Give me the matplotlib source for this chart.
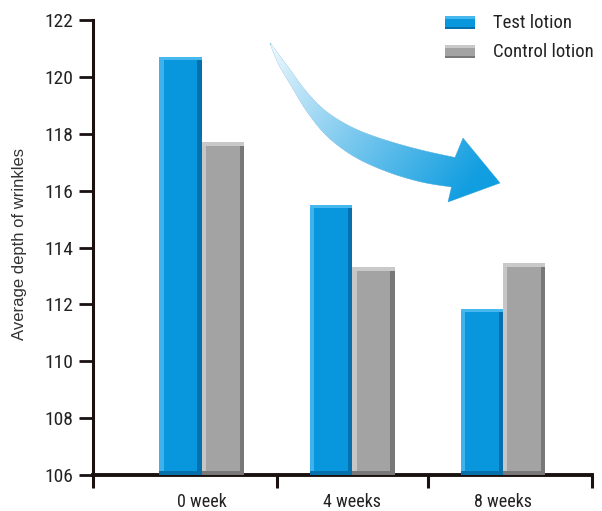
import numpy as np
import matplotlib
matplotlib.use("Agg")
import matplotlib.pyplot as plt
from matplotlib.patches import Polygon, Rectangle
from matplotlib import font_manager

# ---- data ----
categories = ["0 week", "4 weeks", "8 weeks"]
test_lotion = [120.7, 115.5, 111.85]
control_lotion = [117.7, 113.3, 113.45]
series_names = ["Test lotion", "Control lotion"]
y_ticks = [106, 108, 110, 112, 114, 116, 118, 120, 122]
y_label = "Average depth of wrinkles"

# ---- fonts ----
installed = {f.name for f in font_manager.fontManager.ttflist}
cond_candidates = ["Roboto Condensed", "Liberation Sans Narrow", "Archivo Narrow",
                   "PT Sans Narrow", "Fira Sans Condensed", "IBM Plex Sans Condensed",
                   "Encode Sans Condensed", "Asap Condensed", "Barlow Semi Condensed",
                   "Open Sans Condensed", "Pragati Narrow", "Liberation Sans"]
cond = next((c for c in cond_candidates if c in installed), "DejaVu Sans")
narrow = [cond, "DejaVu Sans"]
regular = ["Liberation Sans", "DejaVu Sans"]

W, H = 602, 511
fig = plt.figure(figsize=(W / 100, H / 100), dpi=100)
fig.patch.set_facecolor("white")

ax = fig.add_axes([93 / W, 1 - 475 / H, (592 - 93) / W, (475 - 20) / H])
ax.set_facecolor("none")

blue = dict(main="#0897dc", light="#3fb2ec", dark="#0670ad", top="#46b8ee")
grey = dict(main="#a3a3a3", light="#c6c6c6", dark="#787878", top="#c9c9c9")

bw = 0.28
x = np.arange(len(categories))
base = y_ticks[0]


def bevel_bar(xc, val, c):
    ax.bar(xc, val - base, bw, bottom=base, color=c["main"], zorder=2, linewidth=0)
    ax.bar(xc - bw / 2 + bw * 0.05, val - base, bw * 0.1, bottom=base, color=c["light"], zorder=3, linewidth=0)
    ax.bar(xc + bw / 2 - bw * 0.05, val - base, bw * 0.1, bottom=base, color=c["dark"], zorder=3, linewidth=0)
    ax.bar(xc, 0.12, bw, bottom=val - 0.12, color=c["top"], zorder=4, linewidth=0)
    ax.bar(xc, 0.15, bw, bottom=base, color=c["dark"], zorder=4, linewidth=0)


for i in range(len(categories)):
    bevel_bar(x[i] - bw / 2, test_lotion[i], blue)
    bevel_bar(x[i] + bw / 2, control_lotion[i], grey)

xl = (-0.72, 2.59)
ax.set_xlim(*xl)
ax.set_ylim(y_ticks[0], y_ticks[-1])
ax.set_yticks(y_ticks)
ax.set_yticklabels([str(t) for t in y_ticks], fontfamily=narrow, fontsize=14, color="#222222")
ax.set_xticks(x)
ax.set_xticklabels(categories, fontfamily=narrow, fontsize=13, color="#222222")
ax.tick_params(axis="x", which="major", length=0, pad=13)
ax.set_xticks([xl[0], 0.5, 1.5, xl[1]], minor=True)
ax.tick_params(axis="x", which="minor", length=9, width=2.2, direction="out", color="#1a1010")
ax.tick_params(axis="y", length=10, width=2.0, direction="out", color="#1a1010", pad=4)

for s in ["top", "right"]:
    ax.spines[s].set_visible(False)
ax.spines["left"].set_linewidth(2.2)
ax.spines["bottom"].set_linewidth(2.8)
ax.spines["left"].set_color("#1a1010")
ax.spines["bottom"].set_color("#1a1010")

fig.text(20 / W, 1 - 244 / H, y_label, rotation=90, ha="center", va="center",
         fontfamily=regular, fontsize=12, color="#333333")

# ---- overlay in pixel coordinates (arrow and legend) ----
gax = fig.add_axes([0, 0, 1, 1], zorder=5)
gax.set_xlim(0, W)
gax.set_ylim(H, 0)
gax.axis("off")
gax.patch.set_alpha(0)


def catmull(pts, n=12):
    pts = np.asarray(pts, float)
    P = np.vstack([pts[0], pts, pts[-1]])
    out = []
    for i in range(1, len(P) - 2):
        p0, p1, p2, p3 = P[i - 1], P[i], P[i + 1], P[i + 2]
        for t in np.linspace(0, 1, n, endpoint=False):
            t2, t3 = t * t, t * t * t
            out.append(0.5 * ((2 * p1) + (-p0 + p2) * t + (2 * p0 - 5 * p1 + 4 * p2 - p3) * t2
                              + (-p0 + 3 * p1 - 3 * p2 + p3) * t3))
    out.append(P[-2])
    return np.array(out)


upper = [(270, 43), (288, 67), (305, 90), (322, 108), (342, 122), (365, 133),
         (395, 143), (425, 151), (455, 157.5)]
head = [(463, 138), (500, 183), (448, 202), (451.5, 187)]
lower = [(451.5, 187), (421.5, 182), (388, 172), (355, 157), (328, 137), (308, 113),
         (292, 87), (278, 63), (270, 43)]
arrow_pts = np.vstack([catmull(upper), np.array(head), catmull(lower)[1:]])
poly = Polygon(arrow_pts, closed=True, transform=gax.transData, facecolor="none",
               edgecolor="#6fb3da", linewidth=0.4)
gax.add_patch(poly)
gx = np.linspace(0, 1, 200)
gy = np.linspace(0, 1, 100)
GX, GY = np.meshgrid(gx, gy)
t = np.clip(0.75 * GX + 0.4 * GY, 0, 1) ** 0.9
c0 = np.array([0.97, 0.985, 1.0])
c1 = np.array([0.07, 0.62, 0.88])
img = c0[None, None, :] * (1 - t[..., None]) + c1[None, None, :] * t[..., None]
im = gax.imshow(img, extent=(268, 502, 205, 40), aspect="auto", zorder=4)
im.set_clip_path(poly)
gax.set_xlim(0, W)
gax.set_ylim(H, 0)

# legend
leg_colors = [blue, grey]
leg_y = [16, 45]
for name, c, yy in zip(series_names, leg_colors, leg_y):
    gax.add_patch(Rectangle((445, yy), 30, 13, facecolor=c["main"], edgecolor="none", zorder=3))
    gax.add_patch(Rectangle((445, yy), 30, 3, facecolor=c["top"], edgecolor="none", zorder=4))
    gax.add_patch(Rectangle((445, yy + 11), 30, 2.5, facecolor=c["dark"], edgecolor="none", zorder=4))
    gax.text(493, yy + 7, name, ha="left", va="center", fontfamily=narrow,
             fontsize=13.5, color="#222222")

fig.savefig("out.png", dpi=100, facecolor="white")
